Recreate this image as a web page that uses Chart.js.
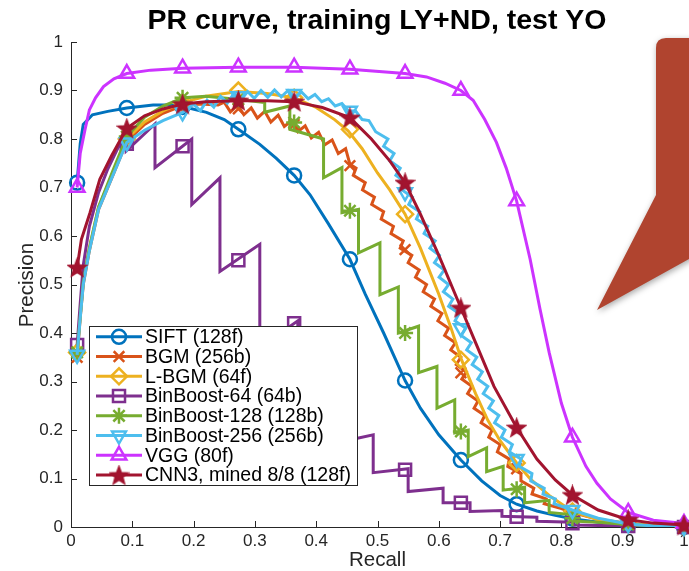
<!DOCTYPE html>
<html><head><meta charset="utf-8">
<script src="https://cdn.jsdelivr.net/npm/chart.js@4.4.1/dist/chart.umd.min.js"></script>
<style>html,body{margin:0;padding:0;background:#fff;}#wrap{width:689px;height:571px;position:relative;}</style>
</head><body><div id="wrap"><canvas id="c" width="689" height="571"></canvas></div>
<script>
const chartTitle = 'PR curve, training LY+ND, test YO';
const xAxisLabel = 'Recall';
const yAxisLabel = 'Precision';
const xTickValues = [0,0.1,0.2,0.3,0.4,0.5,0.6,0.7,0.8,0.9,1];
const yTickValues = [0,0.1,0.2,0.3,0.4,0.5,0.6,0.7,0.8,0.9,1];
const seriesNames = ['SIFT (128f)','BGM (256b)','L-BGM (64f)','BinBoost-64 (64b)','BinBoost-128 (128b)','BinBoost-256 (256b)','VGG (80f)','CNN3, mined 8/8 (128f)'];
const markerRecall = [0.01,0.091,0.182,0.273,0.364,0.455,0.545,0.636,0.727,0.818,0.909,1.0];

const sift = [[0.01,0.71],[0.015,0.79],[0.02,0.83],[0.035,0.85],[0.06,0.857],[0.091,0.864],[0.134,0.87],[0.16,0.87],[0.189,0.865],[0.221,0.855],[0.25,0.84],[0.273,0.82],[0.308,0.789],[0.335,0.76],[0.364,0.725],[0.39,0.685],[0.42,0.625],[0.455,0.552],[0.48,0.48],[0.51,0.40],[0.545,0.302],[0.57,0.245],[0.60,0.19],[0.636,0.138],[0.67,0.095],[0.70,0.065],[0.727,0.047],[0.76,0.033],[0.79,0.024],[0.818,0.017],[0.86,0.01],[0.909,0.005],[0.95,0.002],[1.0,0.0]];
const siftMarks = [0.71,0.864,0.866,0.82,0.725,0.552,0.302,0.138,0.047,0.017,0.005,0.0];

const bgm = [[0.01,0.35],[0.015,0.43],[0.02,0.50],[0.03,0.57],[0.045,0.655],[0.07,0.73],[0.091,0.795],[0.12,0.83],[0.15,0.853],[0.18,0.868],[0.21,0.872],[0.24,0.87],[0.25,0.876],[0.26,0.856],[0.272,0.87],[0.282,0.85],[0.294,0.864],[0.304,0.843],[0.316,0.857],[0.326,0.835],[0.338,0.849],[0.348,0.826],[0.36,0.838],[0.37,0.815],[0.382,0.827],[0.392,0.802],[0.404,0.814],[0.414,0.788],[0.426,0.798],[0.436,0.77],[0.448,0.78],[0.455,0.748],[0.465,0.74],[0.4605,0.725],[0.48,0.71],[0.4755,0.695],[0.495,0.68],[0.4905,0.665],[0.51,0.65],[0.506,0.635],[0.526,0.62],[0.522,0.605],[0.542,0.59],[0.537,0.575],[0.556,0.56],[0.55,0.545],[0.568,0.53],[0.562,0.515],[0.58,0.50],[0.5745,0.485],[0.593,0.47],[0.587,0.455],[0.605,0.44],[0.5985,0.425],[0.616,0.41],[0.6095,0.395],[0.627,0.38],[0.6195,0.365],[0.636,0.35],[0.6285,0.335],[0.645,0.32],[0.6375,0.305],[0.654,0.29],[0.647,0.275],[0.664,0.26],[0.6575,0.245],[0.675,0.23],[0.669,0.215],[0.687,0.20],[0.6815,0.185],[0.70,0.17],[0.6955,0.155],[0.715,0.14],[0.7125,0.125],[0.734,0.11],[0.734,0.095],[0.755,0.08],[0.752,0.068],[0.775,0.058],[0.772,0.048],[0.80,0.038],[0.818,0.03],[0.86,0.016],[0.909,0.007],[0.95,0.003],[1.0,0.0]];
const bgmMarks = [0.35,0.795,0.868,0.862,0.83,0.745,0.572,0.318,0.12,0.03,0.007,0.0];

const lbgm = [[0.01,0.36],[0.015,0.435],[0.02,0.505],[0.03,0.575],[0.045,0.66],[0.07,0.735],[0.091,0.80],[0.12,0.835],[0.15,0.858],[0.182,0.875],[0.22,0.888],[0.273,0.898],[0.32,0.894],[0.364,0.885],[0.40,0.865],[0.43,0.84],[0.452,0.817],[0.475,0.78],[0.50,0.73],[0.52,0.695],[0.545,0.645],[0.57,0.575],[0.60,0.48],[0.62,0.41],[0.637,0.345],[0.66,0.275],[0.68,0.22],[0.70,0.178],[0.727,0.132],[0.75,0.098],[0.78,0.065],[0.818,0.032],[0.86,0.015],[0.909,0.007],[0.95,0.003],[1.0,0.0]];
const lbgmMarks = [0.36,0.80,0.875,0.90,0.885,0.82,0.645,0.345,0.132,0.032,0.007,0.0];

const bb64 = [[0.01,0.375],[0.015,0.46],[0.02,0.54],[0.03,0.62],[0.045,0.69],[0.06,0.738],[0.077,0.783],[0.09,0.80],[0.09,0.775],[0.137,0.831],[0.137,0.741],[0.197,0.80],[0.197,0.665],[0.243,0.72],[0.243,0.527],[0.308,0.583],[0.308,0.37],[0.37,0.425],[0.37,0.30],[0.42,0.34],[0.42,0.17],[0.493,0.19],[0.493,0.112],[0.55,0.12],[0.55,0.073],[0.607,0.08],[0.607,0.05],[0.651,0.05],[0.651,0.032],[0.703,0.034],[0.703,0.022],[0.76,0.02],[0.76,0.012],[0.82,0.01],[0.82,0.004],[0.909,0.002],[1.0,0.0]];
const bb64Marks = [0.375,0.79,0.785,0.55,0.42,0.18,0.118,0.05,0.021,0.008,0.002,0.0];

const bb128 = [[0.01,0.36],[0.015,0.435],[0.02,0.505],[0.03,0.575],[0.045,0.66],[0.07,0.74],[0.091,0.805],[0.12,0.845],[0.15,0.868],[0.183,0.885],[0.22,0.888],[0.27,0.882],[0.316,0.875],[0.316,0.855],[0.357,0.868],[0.357,0.82],[0.412,0.80],[0.412,0.72],[0.442,0.741],[0.442,0.648],[0.469,0.655],[0.469,0.565],[0.504,0.586],[0.504,0.479],[0.534,0.495],[0.534,0.40],[0.567,0.414],[0.567,0.318],[0.597,0.331],[0.597,0.245],[0.626,0.262],[0.626,0.194],[0.648,0.20],[0.648,0.145],[0.678,0.163],[0.678,0.114],[0.705,0.125],[0.705,0.076],[0.74,0.082],[0.74,0.05],[0.78,0.055],[0.78,0.03],[0.82,0.025],[0.82,0.012],[0.86,0.01],[0.909,0.005],[0.95,0.002],[1.0,0.0]];
const bb128Marks = [0.36,0.805,0.885,0.882,0.834,0.652,0.40,0.197,0.078,0.018,0.005,0.0];

const bb256 = [[0.01,0.355],[0.015,0.43],[0.02,0.50],[0.03,0.57],[0.045,0.655],[0.07,0.73],[0.091,0.793],[0.12,0.818],[0.15,0.838],[0.182,0.855],[0.20,0.872],[0.211,0.858],[0.222,0.88],[0.233,0.866],[0.244,0.888],[0.255,0.874],[0.266,0.894],[0.277,0.88],[0.288,0.898],[0.299,0.884],[0.31,0.90],[0.321,0.886],[0.332,0.901],[0.343,0.887],[0.354,0.90],[0.365,0.886],[0.376,0.897],[0.387,0.883],[0.398,0.892],[0.409,0.877],[0.42,0.883],[0.431,0.868],[0.442,0.873],[0.453,0.857],[0.464,0.858],[0.475,0.84],[0.486,0.838],[0.497,0.815],[0.517,0.80],[0.51,0.785],[0.527,0.77],[0.52,0.755],[0.537,0.74],[0.53,0.725],[0.547,0.71],[0.54,0.695],[0.557,0.68],[0.551,0.665],[0.569,0.65],[0.5635,0.635],[0.582,0.62],[0.576,0.605],[0.594,0.59],[0.5855,0.575],[0.601,0.56],[0.593,0.545],[0.609,0.53],[0.6005,0.515],[0.616,0.50],[0.6075,0.485],[0.623,0.47],[0.616,0.455],[0.633,0.44],[0.6265,0.425],[0.644,0.41],[0.6365,0.395],[0.653,0.38],[0.6455,0.365],[0.662,0.35],[0.6545,0.335],[0.671,0.32],[0.6635,0.305],[0.68,0.29],[0.6725,0.275],[0.689,0.26],[0.6815,0.245],[0.698,0.23],[0.691,0.215],[0.708,0.20],[0.702,0.185],[0.72,0.17],[0.715,0.155],[0.734,0.14],[0.731,0.125],[0.752,0.11],[0.75,0.095],[0.772,0.08],[0.77,0.068],[0.79,0.058],[0.788,0.048],[0.818,0.035],[0.86,0.018],[0.909,0.006],[0.95,0.002],[1.0,0.0]];
const bb256Marks = [0.355,0.793,0.855,0.888,0.893,0.858,0.69,0.41,0.14,0.035,0.006,0.0];

const vgg = [[0.01,0.70],[0.015,0.77],[0.023,0.82],[0.03,0.86],[0.04,0.885],[0.053,0.908],[0.07,0.924],[0.091,0.935],[0.13,0.942],[0.182,0.946],[0.273,0.948],[0.364,0.948],[0.455,0.944],[0.545,0.935],[0.58,0.928],[0.61,0.915],[0.636,0.90],[0.656,0.88],[0.675,0.84],[0.694,0.793],[0.71,0.74],[0.727,0.672],[0.749,0.552],[0.765,0.45],[0.78,0.36],[0.80,0.255],[0.818,0.185],[0.84,0.125],[0.858,0.09],[0.88,0.058],[0.909,0.03],[0.95,0.014],[1.0,0.007]];
const vggMarks = [0.70,0.935,0.946,0.948,0.948,0.944,0.935,0.90,0.672,0.185,0.03,0.007];

const cnn3 = [[0.01,0.535],[0.017,0.593],[0.031,0.648],[0.047,0.717],[0.066,0.765],[0.091,0.822],[0.12,0.848],[0.15,0.862],[0.182,0.872],[0.22,0.877],[0.273,0.879],[0.32,0.879],[0.364,0.877],[0.41,0.865],[0.455,0.844],[0.49,0.80],[0.52,0.755],[0.545,0.71],[0.57,0.645],[0.60,0.56],[0.636,0.452],[0.66,0.38],[0.69,0.29],[0.727,0.205],[0.76,0.14],[0.79,0.097],[0.818,0.066],[0.86,0.035],[0.909,0.015],[0.95,0.008],[1.0,0.004]];
const cnn3Marks = [0.535,0.822,0.872,0.879,0.877,0.844,0.71,0.452,0.205,0.066,0.015,0.004];

const seriesLines = [sift,bgm,lbgm,bb64,bb128,bb256,vgg,cnn3];
const seriesMarks = [siftMarks,bgmMarks,lbgmMarks,bb64Marks,bb128Marks,bb256Marks,vggMarks,cnn3Marks];

// styles
const colors = ['#0072BD','#D95319','#EDB120','#7E2F8E','#77AC30','#4DBEEE','#CC33FF','#A2142F'];
const FONT = '"Liberation Sans", Arial, Helvetica, sans-serif';
const AXC = '#262626';

function makeStar(color, size){
  const c = document.createElement('canvas');
  c.width = size; c.height = size;
  const g = c.getContext('2d');
  const cx = size/2, cy = size/2 + 0.8, R = size/2 - 1, r = R*0.42;
  g.beginPath();
  for (let k=0;k<10;k++){
    const a = -Math.PI/2 + k*Math.PI/5;
    const rr = (k%2===0)?R:r;
    g.lineTo(cx+rr*Math.cos(a), cy+rr*Math.sin(a));
  }
  g.closePath();
  g.fillStyle = color; g.fill();
  g.strokeStyle = color; g.lineWidth = 1.5; g.stroke();
  return c;
}
const starImg = makeStar('#A2142F', 21);
const markerStyles = ['circle','crossRot','rectRot','rect','star','triangle','triangle',starImg];
const markerRadius = [7,7.5,8,8.5,8,8,8.5,10];
const markerRotation = [0,0,0,0,0,180,0,0];

const datasets = [];
seriesLines.forEach((pts,i)=>{
  datasets.push({
    label: seriesNames[i],
    data: pts.map(p=>({x:p[0],y:p[1]})),
    showLine: true,
    borderColor: colors[i],
    borderWidth: 3,
    pointRadius: 0,
    pointHoverRadius: 0,
    tension: 0,
    borderJoinStyle: 'miter',
    order: (7-i)*2+1
  });
  datasets.push({
    label: seriesNames[i]+' markers',
    data: markerRecall.map((x,j)=>({x:x,y:seriesMarks[i][j]})),
    showLine: false,
    pointStyle: markerStyles[i],
    pointRadius: markerRadius[i],
    pointHoverRadius: markerRadius[i],
    pointRotation: markerRotation[i],
    pointBorderColor: colors[i],
    pointBackgroundColor: 'rgba(0,0,0,0)',
    pointBorderWidth: 2.5,
    clip: false,
    order: (7-i)*2
  });
});

const decor = {
  id: 'decor',
  beforeDatasetsDraw(chart){
    const ctx = chart.ctx, xs = chart.scales.x, ys = chart.scales.y;
    const ca = chart.chartArea;
    ctx.save();
    ctx.strokeStyle = AXC; ctx.lineWidth = 1;
    xTickValues.forEach(v=>{
      const px = Math.round(xs.getPixelForValue(v))+0.5;
      ctx.beginPath(); ctx.moveTo(px, ca.bottom); ctx.lineTo(px, ca.bottom-6); ctx.stroke();
    });
    yTickValues.forEach(v=>{
      const py = Math.round(ys.getPixelForValue(v))+0.5;
      ctx.beginPath(); ctx.moveTo(ca.left, py); ctx.lineTo(ca.left+6, py); ctx.stroke();
    });
    ctx.restore();
  },
  afterDatasetsDraw(chart){
    const ctx = chart.ctx;
    ctx.save();
    // legend
    const lx = 89.5, ly = 326.5, lw = 268, lh = 159;
    ctx.fillStyle = '#fff';
    ctx.fillRect(lx, ly, lw, lh);
    ctx.strokeStyle = AXC; ctx.lineWidth = 1;
    ctx.strokeRect(lx, ly, lw, lh);
    const rowH = 19.76, y0 = 336.8;
    for (let i=0;i<8;i++){
      const y = y0 + i*rowH;
      ctx.strokeStyle = colors[i]; ctx.lineWidth = 3;
      ctx.beginPath(); ctx.moveTo(96, y); ctx.lineTo(142, y); ctx.stroke();
      ctx.fillStyle = 'rgba(0,0,0,0)';
      ctx.strokeStyle = colors[i]; ctx.lineWidth = 2.5;
      Chart.helpers.drawPoint(ctx, {pointStyle: markerStyles[i], radius: markerRadius[i], rotation: markerRotation[i], borderWidth: 2.5}, 119, y);
      ctx.fillStyle = '#000';
      ctx.font = '19.5px ' + FONT;
      ctx.textAlign = 'left'; ctx.textBaseline = 'middle';
      ctx.fillText(seriesNames[i], 145, y+1);
    }
    ctx.restore();
  },
  afterDraw(chart){
    const ctx = chart.ctx;
    ctx.save();
    // title
    ctx.fillStyle = '#000';
    ctx.font = 'bold 28.5px "Liberation Sans", Arial, sans-serif';
    ctx.textAlign = 'center'; ctx.textBaseline = 'middle';
    ctx.fillText(chartTitle, 377, 21);
    // axis labels
    ctx.fillStyle = AXC;
    ctx.font = '20.5px ' + FONT;
    ctx.fillText(xAxisLabel, 377.5, 560);
    ctx.save();
    ctx.translate(27, 285); ctx.rotate(-Math.PI/2);
    ctx.fillText(yAxisLabel, 0, 0);
    ctx.restore();
    // callout shape
    ctx.shadowColor = 'rgba(0,0,0,0.35)';
    ctx.shadowBlur = 6; ctx.shadowOffsetX = 1; ctx.shadowOffsetY = 2;
    ctx.fillStyle = '#B0442F';
    ctx.beginPath();
    ctx.moveTo(656, 48);
    ctx.quadraticCurveTo(656, 38, 666, 38);
    ctx.lineTo(700, 38);
    ctx.lineTo(700, 253);
    ctx.lineTo(597, 310);
    ctx.lineTo(656, 195);
    ctx.closePath();
    ctx.fill();
    ctx.restore();
  }
};

Chart.defaults.font.family = FONT;
new Chart(document.getElementById('c'), {
  type: 'scatter',
  data: { datasets },
  options: {
    responsive: false,
    animation: false,
    devicePixelRatio: 1,
    layout: { autoPadding: false, padding: { left: 0, right: 5, top: 42, bottom: 0 } },
    plugins: { legend: { display: false }, tooltip: { enabled: false }, title: { display: false } },
    scales: {
      x: {
        type: 'linear', min: 0, max: 1,
        afterFit(s){ s.height = 44; s.paddingLeft = 0; s.paddingRight = 0; },
        afterBuildTicks(s){ s.ticks = xTickValues.map(v=>({value:v})); },
        ticks: { color: AXC, font: { size: 17, lineHeight: 1.65 }, padding: 0, maxRotation: 0, autoSkip: false,
          callback: v => (v===0||v===1) ? String(v) : v.toFixed(1) },
        grid: { display: false, drawTicks: false },
        border: { display: true, color: AXC, width: 1 }
      },
      y: {
        type: 'linear', min: 0, max: 1,
        afterFit(s){ s.width = 71; s.paddingTop = 0; s.paddingBottom = 0; },
        afterBuildTicks(s){ s.ticks = yTickValues.map(v=>({value:v})); },
        ticks: { color: AXC, font: { size: 17 }, padding: 8, autoSkip: false,
          callback: v => (v===0||v===1) ? String(v) : v.toFixed(1) },
        grid: { display: false, drawTicks: false },
        border: { display: true, color: AXC, width: 1 }
      }
    }
  },
  plugins: [decor]
});
</script>
</body></html>
